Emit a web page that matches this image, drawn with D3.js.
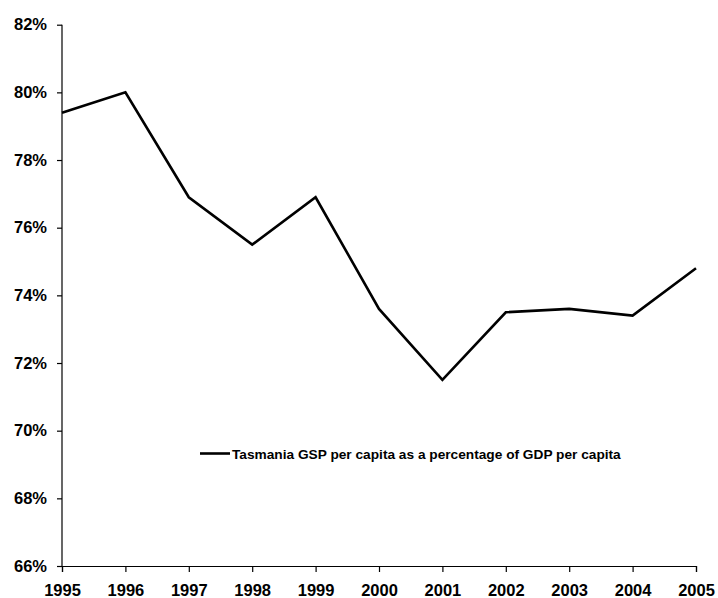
<!DOCTYPE html>
<html><head><meta charset="utf-8">
<script src="https://cdn.jsdelivr.net/npm/d3@7"></script>
<style>body{margin:0;background:#fff}svg{display:block}</style>
</head><body>
<svg id="c" width="718" height="598"></svg>
<script>
const years = [1995,1996,1997,1998,1999,2000,2001,2002,2003,2004,2005];
const values = [79.4,80.0,76.9,75.5,76.9,73.6,71.5,73.5,73.6,73.4,74.8];
const yTicks = [66,68,70,72,74,76,78,80,82];
const seriesName = "Tasmania GSP per capita as a percentage of GDP per capita";

const svg = d3.select("#c");
const font = "'Liberation Sans', Arial, sans-serif";
const x = d3.scaleLinear().domain([1995,2005]).range([62,696]);
const y = d3.scaleLinear().domain([66,82]).range([566,24.7]);

const yAxis = svg.append("g").attr("transform","translate(62,0)")
  .call(d3.axisLeft(y).tickValues(yTicks).tickFormat(d=>d+"%").tickSizeOuter(0).tickSize(5).tickPadding(10));
const xAxis = svg.append("g").attr("transform","translate(0,566)")
  .call(d3.axisBottom(x).tickValues(years).tickFormat(d3.format("d")).tickSizeOuter(0).tickSize(6).tickPadding(12));
[yAxis,xAxis].forEach(g=>{
  g.selectAll("path,line").attr("stroke","#000").attr("stroke-width",1.2);
  g.selectAll("text").attr("font-family",font).attr("font-weight","bold").attr("font-size","16.5px").attr("fill","#000");
});
yAxis.select(".domain").attr("d","M0,566V24.7");

svg.append("path").datum(values)
  .attr("fill","none").attr("stroke","#000").attr("stroke-width",2.6).attr("stroke-linejoin","miter")
  .attr("d", d3.line().x((d,i)=>x(years[i])).y(d=>y(d)));

const lg = svg.append("g");
lg.append("line").attr("x1",200).attr("x2",230).attr("y1",453.5).attr("y2",453.5).attr("stroke","#000").attr("stroke-width",2.6);
lg.append("text").attr("x",232).attr("y",458.5).attr("font-family",font).attr("font-weight","bold")
  .attr("font-size","13.7px").attr("fill","#000").text(seriesName);
</script>
</body></html>
